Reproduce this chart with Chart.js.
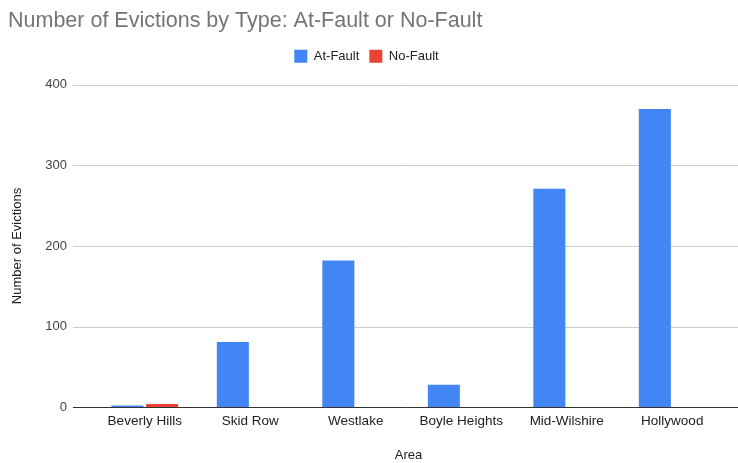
<!DOCTYPE html>
<html>
<head>
<meta charset="utf-8">
<script src="https://cdn.jsdelivr.net/npm/chart.js@4/dist/chart.umd.min.js"></script>
<style>
  html, body { margin: 0; padding: 0; background: #fff; }
  #wrap { width: 738px; height: 463px; position: relative; }
</style>
</head>
<body>
<div id="wrap"><canvas id="c"></canvas></div>
<script>
const categories = ["Beverly Hills", "Skid Row", "Westlake", "Boyle Heights", "Mid-Wilshire", "Hollywood"];
const atFault = [2, 81, 182, 28, 271, 370];
const noFault = [4, 0, 0, 0, 0, 0];
const yTicks = [0, 100, 200, 300, 400];

const FONT = "'Liberation Sans', Arial, sans-serif";

function drawHLine(ctx, py, color) {
  ctx.beginPath();
  ctx.strokeStyle = color;
  ctx.lineWidth = 1;
  ctx.moveTo(73, py);
  ctx.lineTo(738, py);
  ctx.stroke();
}

const fullGrid = {
  id: 'fullGrid',
  beforeInit(chart) {
    const legend = chart.legend;
    if (legend) {
      const orig = legend.fit;
      legend.fit = function () { orig.call(this); this.height += 12; };
    }
  },
  beforeDatasetsDraw(chart) {
    const ctx = chart.ctx;
    const y = chart.scales.y;
    ctx.save();
    yTicks.forEach(v => {
      if (v === 0) return;
      drawHLine(ctx, Math.round(y.getPixelForValue(v)) + 0.5, '#cccccc');
    });
    ctx.restore();
  },
  afterDatasetsDraw(chart) {
    const ctx = chart.ctx;
    const y = chart.scales.y;
    ctx.save();
    drawHLine(ctx, Math.round(y.getPixelForValue(0)) + 0.5, '#333333');
    ctx.restore();
  }
};

new Chart(document.getElementById('c'), {
  type: 'bar',
  data: {
    labels: categories,
    datasets: [
      { label: 'At-Fault', data: atFault, backgroundColor: '#4285F4', barPercentage: 0.92, categoryPercentage: 0.66 },
      { label: 'No-Fault', data: noFault, backgroundColor: '#EA4335', barPercentage: 0.92, categoryPercentage: 0.66 }
    ]
  },
  plugins: [fullGrid],
  options: {
    responsive: true,
    maintainAspectRatio: false,
    animation: false,
    layout: { padding: { left: 8, right: 13, top: 8, bottom: 0 } },
    plugins: {
      title: {
        display: true,
        text: 'Number of Evictions by Type: At-Fault or No-Fault',
        align: 'start',
        color: '#757575',
        font: { family: FONT, size: 21.5, weight: 'normal' },
        padding: { top: 0, bottom: 6 }
      },
      legend: {
        display: true,
        position: 'top',
        labels: {
          boxWidth: 13, boxHeight: 13,
          color: '#222222',
          font: { family: FONT, size: 13 },
          padding: 10
        }
      },
      tooltip: { enabled: false }
    },
    scales: {
      x: {
        grid: { display: false, drawTicks: false },
        border: { display: false },
        ticks: { color: '#222222', font: { family: FONT, size: 13.5 }, padding: 6, maxRotation: 0, autoSkip: false },
        title: { display: true, text: 'Area', color: '#222222', font: { family: FONT, size: 13 }, padding: { top: 12, bottom: 0 } }
      },
      y: {
        min: 0, max: 400,
        afterBuildTicks(scale) { scale.ticks = yTicks.map(v => ({ value: v })); },
        afterFit(scale) { scale.width = 84; },
        grid: { display: false, drawTicks: false },
        border: { display: false },
        ticks: { color: '#444444', font: { family: FONT, size: 13 }, padding: 25 },
        title: { display: true, text: 'Number of Evictions', color: '#222222', font: { family: FONT, size: 13 }, padding: { top: 2, bottom: 19 } }
      }
    }
  }
});
</script>
</body>
</html>
